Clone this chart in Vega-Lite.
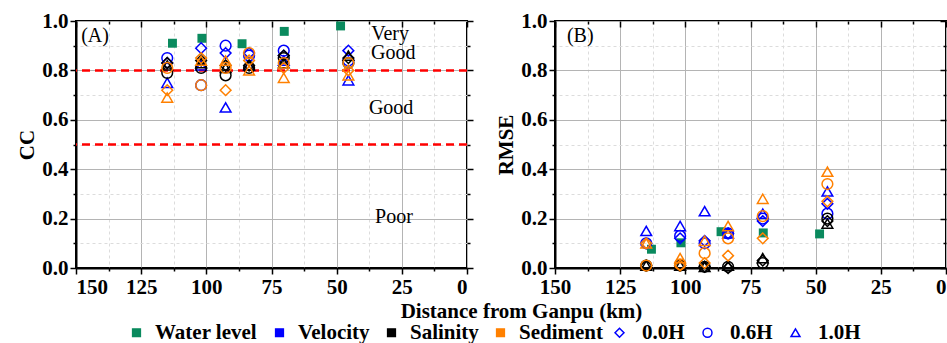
{
  "$schema": "https://vega.github.io/schema/vega-lite/v6.json",
  "background": "white",
  "padding": {"left": 15, "top": 9, "right": 0, "bottom": 0},
  "bounds": "flush",
  "spacing": 88,
  "config": {
    "font": "Liberation Serif",
    "view": {"stroke": "black", "strokeWidth": 2},
    "axis": {
      "domainColor": "black", "domainWidth": 2,
      "tickColor": "black", "tickWidth": 1.5,
      "labelFont": "Liberation Serif", "labelFontWeight": "bold", "labelFontSize": 21, "labelColor": "black", "labelPadding": 2,
      "titleFont": "Liberation Serif", "titleFontWeight": "bold", "titleFontSize": 21, "titleColor": "black",
      "gridWidth": 1
    },
    "legend": {
      "labelFont": "Liberation Serif", "labelFontWeight": "bold", "labelFontSize": 21, "labelColor": "black"
    }
  },
  "datasets": {
    "pts": [
      {"d": 113.0, "var": "Water level", "depth": "", "cc": 0.91, "rmse": 0.076},
      {"d": 101.7, "var": "Water level", "depth": "", "cc": 0.93, "rmse": 0.102},
      {"d": 86.3, "var": "Water level", "depth": "", "cc": 0.908, "rmse": 0.147},
      {"d": 70.1, "var": "Water level", "depth": "", "cc": 0.958, "rmse": 0.142},
      {"d": 48.5, "var": "Water level", "depth": "", "cc": 0.98, "rmse": 0.138},
      {"d": 115, "var": "Velocity", "depth": "0.0H", "cc": 0.83, "rmse": 0.10},
      {"d": 115, "var": "Velocity", "depth": "0.6H", "cc": 0.85, "rmse": 0.10},
      {"d": 115, "var": "Velocity", "depth": "1.0H", "cc": 0.75, "rmse": 0.15},
      {"d": 102, "var": "Velocity", "depth": "0.0H", "cc": 0.89, "rmse": 0.12},
      {"d": 102, "var": "Velocity", "depth": "0.6H", "cc": 0.74, "rmse": 0.13},
      {"d": 102, "var": "Velocity", "depth": "1.0H", "cc": 0.82, "rmse": 0.17},
      {"d": 92.6, "var": "Velocity", "depth": "0.0H", "cc": 0.87, "rmse": 0.11},
      {"d": 92.6, "var": "Velocity", "depth": "0.6H", "cc": 0.90, "rmse": 0.10},
      {"d": 92.6, "var": "Velocity", "depth": "1.0H", "cc": 0.65, "rmse": 0.23},
      {"d": 83.6, "var": "Velocity", "depth": "0.0H", "cc": 0.87, "rmse": 0.14},
      {"d": 83.6, "var": "Velocity", "depth": "0.6H", "cc": 0.86, "rmse": 0.14},
      {"d": 83.6, "var": "Velocity", "depth": "1.0H", "cc": 0.82, "rmse": 0.14},
      {"d": 70.3, "var": "Velocity", "depth": "0.0H", "cc": 0.86, "rmse": 0.19},
      {"d": 70.3, "var": "Velocity", "depth": "0.6H", "cc": 0.88, "rmse": 0.20},
      {"d": 70.3, "var": "Velocity", "depth": "1.0H", "cc": 0.84, "rmse": 0.22},
      {"d": 45.5, "var": "Velocity", "depth": "0.0H", "cc": 0.88, "rmse": 0.26},
      {"d": 45.5, "var": "Velocity", "depth": "0.6H", "cc": 0.84, "rmse": 0.22},
      {"d": 45.5, "var": "Velocity", "depth": "1.0H", "cc": 0.76, "rmse": 0.31},
      {"d": 115, "var": "Salinity", "depth": "0.0H", "cc": 0.83, "rmse": 0.01},
      {"d": 115, "var": "Salinity", "depth": "0.6H", "cc": 0.79, "rmse": 0.01},
      {"d": 115, "var": "Salinity", "depth": "1.0H", "cc": 0.82, "rmse": 0.01},
      {"d": 102, "var": "Salinity", "depth": "0.0H", "cc": 0.84, "rmse": 0.01},
      {"d": 102, "var": "Salinity", "depth": "0.6H", "cc": 0.81, "rmse": 0.01},
      {"d": 102, "var": "Salinity", "depth": "1.0H", "cc": 0.83, "rmse": 0.01},
      {"d": 92.6, "var": "Salinity", "depth": "0.0H", "cc": 0.82, "rmse": 0.005},
      {"d": 92.6, "var": "Salinity", "depth": "0.6H", "cc": 0.78, "rmse": 0.005},
      {"d": 92.6, "var": "Salinity", "depth": "1.0H", "cc": 0.81, "rmse": 0.005},
      {"d": 83.6, "var": "Salinity", "depth": "0.0H", "cc": 0.82, "rmse": 0.0},
      {"d": 83.6, "var": "Salinity", "depth": "0.6H", "cc": 0.81, "rmse": 0.005},
      {"d": 83.6, "var": "Salinity", "depth": "1.0H", "cc": 0.82, "rmse": 0.01},
      {"d": 70.3, "var": "Salinity", "depth": "0.0H", "cc": 0.86, "rmse": 0.03},
      {"d": 70.3, "var": "Salinity", "depth": "0.6H", "cc": 0.85, "rmse": 0.02},
      {"d": 70.3, "var": "Salinity", "depth": "1.0H", "cc": 0.83, "rmse": 0.04},
      {"d": 45.5, "var": "Salinity", "depth": "0.0H", "cc": 0.85, "rmse": 0.19},
      {"d": 45.5, "var": "Salinity", "depth": "0.6H", "cc": 0.83, "rmse": 0.20},
      {"d": 45.5, "var": "Salinity", "depth": "1.0H", "cc": 0.86, "rmse": 0.18},
      {"d": 115, "var": "Sediment", "depth": "0.0H", "cc": 0.72, "rmse": 0.10},
      {"d": 115, "var": "Sediment", "depth": "0.6H", "cc": 0.81, "rmse": 0.01},
      {"d": 115, "var": "Sediment", "depth": "1.0H", "cc": 0.69, "rmse": 0.10},
      {"d": 102, "var": "Sediment", "depth": "0.0H", "cc": 0.85, "rmse": 0.01},
      {"d": 102, "var": "Sediment", "depth": "0.6H", "cc": 0.74, "rmse": 0.015},
      {"d": 102, "var": "Sediment", "depth": "1.0H", "cc": 0.84, "rmse": 0.04},
      {"d": 92.6, "var": "Sediment", "depth": "0.0H", "cc": 0.72, "rmse": 0.02},
      {"d": 92.6, "var": "Sediment", "depth": "0.6H", "cc": 0.81, "rmse": 0.06},
      {"d": 92.6, "var": "Sediment", "depth": "1.0H", "cc": 0.84, "rmse": 0.11},
      {"d": 83.6, "var": "Sediment", "depth": "0.0H", "cc": 0.84, "rmse": 0.05},
      {"d": 83.6, "var": "Sediment", "depth": "0.6H", "cc": 0.87, "rmse": 0.12},
      {"d": 83.6, "var": "Sediment", "depth": "1.0H", "cc": 0.80, "rmse": 0.17},
      {"d": 70.3, "var": "Sediment", "depth": "0.0H", "cc": 0.81, "rmse": 0.12},
      {"d": 70.3, "var": "Sediment", "depth": "0.6H", "cc": 0.83, "rmse": 0.21},
      {"d": 70.3, "var": "Sediment", "depth": "1.0H", "cc": 0.77, "rmse": 0.28},
      {"d": 45.5, "var": "Sediment", "depth": "0.0H", "cc": 0.80, "rmse": 0.27},
      {"d": 45.5, "var": "Sediment", "depth": "0.6H", "cc": 0.83, "rmse": 0.34},
      {"d": 45.5, "var": "Sediment", "depth": "1.0H", "cc": 0.78, "rmse": 0.39}
    ],
    "refs": [{"cc": 0.8}, {"cc": 0.5}],
    "annA": [
      {"d": 142.7, "cc": 0.939, "t": "(A)"},
      {"d": 29.5, "cc": 0.946, "t": "Very"},
      {"d": 28.3, "cc": 0.869, "t": "Good"},
      {"d": 29.1, "cc": 0.647, "t": "Good"},
      {"d": 28.0, "cc": 0.208, "t": "Poor"}
    ],
    "annB": [
      {"d": 140.3, "rmse": 0.939, "t": "(B)"}
    ]
  },
  "hconcat": [
    {
      "width": 391,
      "height": 247,
      "layer": [
        {
          "data": {"name": "refs"},
          "mark": {"type": "rule", "color": "#ff0000", "strokeWidth": 2.5, "strokeDash": [8, 5]},
          "encoding": {
            "y": {"field": "cc", "type": "quantitative", "axis": null}
          }
        },
        {
          "data": {"name": "pts"},
          "transform": [{"filter": "datum.var === 'Water level'"}],
          "mark": {"type": "square", "filled": true, "size": 80, "opacity": 1},
          "encoding": {
            "x": {
              "field": "d", "type": "quantitative",
              "scale": {"domain": [0, 150], "reverse": true, "nice": false, "zero": false},
              "axis": {
                "orient": "bottom",
                "values": [0, 12.5, 25, 37.5, 50, 62.5, 75, 87.5, 100, 112.5, 125, 137.5, 150],
                "labelExpr": "datum.value % 25 === 0 ? format(datum.value, 'd') : ''",
                "tickSize": {"condition": {"test": "datum.value % 25 === 0", "value": 6}, "value": 3},
                "grid": true,
                "gridDash": {"condition": {"test": "datum.value % 25 === 0", "value": []}, "value": [3, 3]},
                "gridColor": {"condition": {"test": "datum.value % 25 === 0", "value": "#b4b4b4"}, "value": "#dcdcdc"},
                "title": "Distance from Ganpu (km)",
                "titleX": 445,
                "titlePadding": 3
              }
            },
            "y": {
              "field": "cc", "type": "quantitative",
              "scale": {"domain": [0, 1], "nice": false},
              "axis": {
                "orient": "left",
                "values": [0, 0.1, 0.2, 0.3, 0.4, 0.5, 0.6, 0.7, 0.8, 0.9, 1.0],
                "labelExpr": "round(datum.value * 10) % 2 === 0 ? format(datum.value, '.1f') : ''",
                "tickSize": {"condition": {"test": "round(datum.value * 10) % 2 === 0", "value": 6}, "value": 3},
                "grid": true,
                "gridDash": {"condition": {"test": "round(datum.value * 10) % 2 === 0", "value": []}, "value": [3, 3]},
                "gridColor": {"condition": {"test": "round(datum.value * 10) % 2 === 0", "value": "#b4b4b4"}, "value": "#dcdcdc"},
                "title": "CC",
                "titlePadding": 4
              }
            },
            "color": {
              "field": "var", "type": "nominal",
              "scale": {"domain": ["Water level", "Velocity", "Salinity", "Sediment"], "range": ["#0a8a5e", "#0000ff", "#000000", "#ff8000"]},
              "legend": {
                "orient": "none", "direction": "horizontal", "legendX": 50, "legendY": 301,
                "title": null, "symbolType": "square", "symbolSize": 60,
                "labelOffset": 8, "columnPadding": 11,
                "encode": {"symbols": {"update": {"fill": {"scale": "color", "field": "value"}, "fillOpacity": {"value": 1}, "strokeWidth": {"value": 0}, "shape": {"value": "square"}}}}
              }
            }
          }
        },
        {
          "data": {"name": "pts"},
          "transform": [{"filter": "datum.var !== 'Water level'"}],
          "mark": {"type": "point", "filled": false, "size": 115, "strokeWidth": 1.5, "opacity": 1},
          "encoding": {
            "x": {
              "field": "d", "type": "quantitative",
              "axis": {
                "orient": "top",
                "values": [0, 12.5, 25, 37.5, 50, 62.5, 75, 87.5, 100, 112.5, 125, 137.5, 150],
                "labels": false, "title": null, "domain": false, "grid": false,
                "tickSize": {"condition": {"test": "datum.value % 25 === 0", "value": -6}, "value": -3}
              }
            },
            "y": {
              "field": "cc", "type": "quantitative",
              "axis": {
                "orient": "right",
                "values": [0, 0.1, 0.2, 0.3, 0.4, 0.5, 0.6, 0.7, 0.8, 0.9, 1.0],
                "labels": false, "title": null, "domain": false, "grid": false,
                "tickSize": {"condition": {"test": "round(datum.value * 10) % 2 === 0", "value": 6}, "value": 3}
              }
            },
            "color": {"field": "var", "type": "nominal"},
            "shape": {
              "field": "depth", "type": "nominal",
              "scale": {"domain": ["0.0H", "0.6H", "1.0H"], "range": ["diamond", "circle", "triangle-up"]},
              "legend": {
                "orient": "none", "direction": "horizontal", "legendX": 533, "legendY": 301,
                "title": null, "symbolSize": 80,
                "symbolStrokeColor": "#0000ff", "symbolFillColor": "transparent", "symbolStrokeWidth": 1.5,
                "labelOffset": 12, "columnPadding": 12,
                "encode": {"symbols": {"update": {"stroke": {"value": "#0000ff"}, "fill": {"value": "transparent"}, "strokeWidth": {"value": 1.5}, "opacity": {"value": 1}}}}
              }
            }
          }
        },
        {
          "data": {"name": "annA"},
          "mark": {"type": "text", "font": "Liberation Serif", "fontSize": 20, "color": "black"},
          "encoding": {
            "x": {"field": "d", "type": "quantitative", "axis": null},
            "y": {"field": "cc", "type": "quantitative", "axis": null},
            "text": {"field": "t"}
          }
        }
      ],
      "resolve": {"axis": {"x": "independent", "y": "independent"}}
    },
    {
      "width": 391,
      "height": 247,
      "layer": [
        {
          "data": {"name": "pts"},
          "transform": [{"filter": "datum.var === 'Water level'"}],
          "mark": {"type": "square", "filled": true, "size": 80, "opacity": 1},
          "encoding": {
            "x": {
              "field": "d", "type": "quantitative",
              "scale": {"domain": [0, 150], "reverse": true, "nice": false, "zero": false},
              "axis": {
                "orient": "bottom",
                "values": [0, 12.5, 25, 37.5, 50, 62.5, 75, 87.5, 100, 112.5, 125, 137.5, 150],
                "labelExpr": "datum.value % 25 === 0 ? format(datum.value, 'd') : ''",
                "labelAlign": {"condition": {"test": "datum.value === 0", "value": "right"}, "value": "center"},
                "tickSize": {"condition": {"test": "datum.value % 25 === 0", "value": 6}, "value": 3},
                "grid": true,
                "gridDash": {"condition": {"test": "datum.value % 25 === 0", "value": []}, "value": [3, 3]},
                "gridColor": {"condition": {"test": "datum.value % 25 === 0", "value": "#b4b4b4"}, "value": "#dcdcdc"},
                "title": null
              }
            },
            "y": {
              "field": "rmse", "type": "quantitative",
              "scale": {"domain": [0, 1], "nice": false},
              "axis": {
                "orient": "left",
                "values": [0, 0.1, 0.2, 0.3, 0.4, 0.5, 0.6, 0.7, 0.8, 0.9, 1.0],
                "labelExpr": "round(datum.value * 10) % 2 === 0 ? format(datum.value, '.1f') : ''",
                "tickSize": {"condition": {"test": "round(datum.value * 10) % 2 === 0", "value": 6}, "value": 3},
                "grid": true,
                "gridDash": {"condition": {"test": "round(datum.value * 10) % 2 === 0", "value": []}, "value": [3, 3]},
                "gridColor": {"condition": {"test": "round(datum.value * 10) % 2 === 0", "value": "#b4b4b4"}, "value": "#dcdcdc"},
                "title": "RMSE",
                "titlePadding": 4
              }
            },
            "color": {"field": "var", "type": "nominal"}
          }
        },
        {
          "data": {"name": "pts"},
          "transform": [{"filter": "datum.var !== 'Water level'"}],
          "mark": {"type": "point", "filled": false, "size": 115, "strokeWidth": 1.5, "opacity": 1},
          "encoding": {
            "x": {
              "field": "d", "type": "quantitative",
              "axis": {
                "orient": "top",
                "values": [0, 12.5, 25, 37.5, 50, 62.5, 75, 87.5, 100, 112.5, 125, 137.5, 150],
                "labels": false, "title": null, "domain": false, "grid": false,
                "tickSize": {"condition": {"test": "datum.value % 25 === 0", "value": -6}, "value": -3}
              }
            },
            "y": {
              "field": "rmse", "type": "quantitative",
              "axis": {
                "orient": "right",
                "values": [0, 0.1, 0.2, 0.3, 0.4, 0.5, 0.6, 0.7, 0.8, 0.9, 1.0],
                "labels": false, "title": null, "domain": false, "grid": false,
                "tickSize": {"condition": {"test": "round(datum.value * 10) % 2 === 0", "value": -6}, "value": -3}
              }
            },
            "color": {"field": "var", "type": "nominal"},
            "shape": {"field": "depth", "type": "nominal"}
          }
        },
        {
          "data": {"name": "annB"},
          "mark": {"type": "text", "font": "Liberation Serif", "fontSize": 20, "color": "black"},
          "encoding": {
            "x": {"field": "d", "type": "quantitative", "axis": null},
            "y": {"field": "rmse", "type": "quantitative", "axis": null},
            "text": {"field": "t"}
          }
        }
      ],
      "resolve": {"axis": {"x": "independent", "y": "independent"}}
    }
  ]
}
